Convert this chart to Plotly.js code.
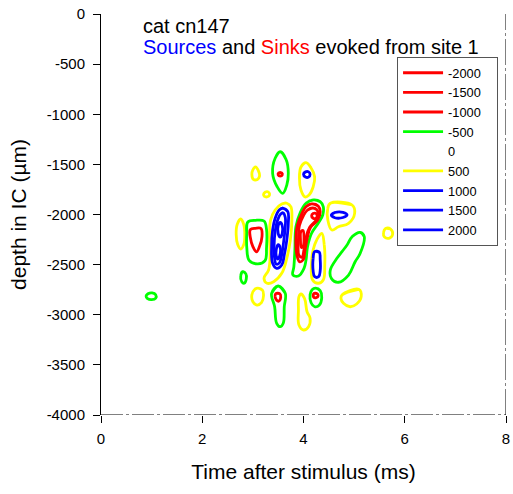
<!DOCTYPE html>
<html><head><meta charset="utf-8">
<script src="https://cdn.plot.ly/plotly-3.0.1.min.js"></script>
<style>html,body{margin:0;padding:0;background:#fff}#chart{width:513px;height:494px}</style>
</head><body><div id="chart"></div>
<script>
// Contour levels (current source density) and their colours
const levelNames = ['-2000','-1500','-1000','-500','0','500','1000','1500','2000'];
const levelColors = ['#ff0000','#ff0000','#ff0000','#00ff00','rgba(0,0,0,0)','#ffff00','#0000ff','#0000ff','#0000ff'];

// Contour loops per level: [time (ms), depth (µm)]
const loopsNeg2000 = [
  [[4.16,-2012],[4.19,-1990],[4.24,-1988],[4.27,-2010],[4.25,-2035],[4.19,-2038]],
  [[3.95,-2170],[3.99,-2160],[4.01,-2230],[3.99,-2320],[3.96,-2330],[3.94,-2250]]
];
const loopsNeg1500 = [
  [[4.18,-1935],[4.26,-1950],[4.29,-1995],[4.25,-2055],[4.12,-2130],[4.05,-2230],[4.01,-2350],[3.97,-2425],[3.91,-2405],[3.90,-2250],[3.92,-2110],[4.00,-2010],[4.08,-1955]]
];
const loopsNeg1000 = [
  [[4.16,-1895],[4.29,-1915],[4.33,-1972],[4.28,-2055],[4.14,-2128],[4.08,-2221],[4.03,-2354],[3.99,-2454],[3.92,-2471],[3.87,-2404],[3.85,-2254],[3.88,-2105],[3.97,-1988],[4.05,-1922]],
  [[2.95,-2150],[3.05,-2138],[3.16,-2140],[3.18,-2220],[3.13,-2320],[3.07,-2372],[3.00,-2320],[2.95,-2230]],
  [[3.51,-1585],[3.57,-1585],[3.58,-1605],[3.54,-1617],[3.50,-1605]],
  [[3.45,-2790],[3.53,-2790],[3.55,-2825],[3.51,-2865],[3.47,-2855],[3.44,-2820]],
  [[4.20,-2790],[4.27,-2790],[4.29,-2810],[4.25,-2830],[4.20,-2825]]
];
const loopsNeg500 = [
  [[3.54,-1374],[3.66,-1456],[3.70,-1589],[3.67,-1706],[3.59,-1789],[3.48,-1723],[3.39,-1589],[3.44,-1439]],
  [[4.20,-1855],[4.33,-1872],[4.39,-1922],[4.38,-2005],[4.29,-2088],[4.16,-2187],[4.08,-2321],[4.05,-2454],[4.01,-2537],[3.90,-2613],[3.79,-2603],[3.81,-2521],[3.83,-2354],[3.85,-2122],[3.93,-1988],[4.05,-1888]],
  [[2.90,-2075],[3.05,-2058],[3.22,-2065],[3.27,-2150],[3.27,-2330],[3.24,-2460],[3.10,-2492],[2.93,-2460],[2.88,-2330],[2.88,-2180]],
  [[2.80,-2570],[2.86,-2590],[2.87,-2640],[2.83,-2685],[2.78,-2670],[2.76,-2610]],
  [[5.12,-2178],[5.20,-2221],[5.12,-2387],[5.02,-2471],[4.89,-2604],[4.69,-2676],[4.55,-2637],[4.53,-2554],[4.66,-2437],[4.76,-2371],[4.86,-2304],[4.96,-2221]],
  [[3.50,-2713],[3.64,-2786],[3.62,-2920],[3.60,-3085],[3.54,-3119],[3.47,-3085],[3.43,-2920],[3.37,-2786]],
  [[4.24,-2735],[4.33,-2760],[4.36,-2830],[4.31,-2905],[4.22,-2920],[4.15,-2880],[4.13,-2800],[4.17,-2750]],
  [[0.89,-2815],[0.93,-2790],[1.01,-2782],[1.08,-2800],[1.08,-2835],[1.00,-2850],[0.92,-2840]]
];
const loopsPos500 = [
  [[3.05,-1525],[3.11,-1565],[3.13,-1620],[3.09,-1650],[3.01,-1650],[2.98,-1600],[3.00,-1555]],
  [[3.21,-1800],[3.25,-1775],[3.31,-1778],[3.33,-1805],[3.29,-1823],[3.23,-1820]],
  [[4.05,-1483],[4.15,-1536],[4.22,-1623],[4.19,-1726],[4.11,-1805],[4.03,-1825],[3.95,-1756],[3.92,-1636],[3.95,-1526]],
  [[3.67,-1888],[3.75,-1922],[3.77,-2055],[3.74,-2254],[3.67,-2437],[3.57,-2587],[3.41,-2670],[3.28,-2686],[3.22,-2636],[3.31,-2554],[3.34,-2421],[3.33,-2221],[3.35,-2055],[3.44,-1955],[3.57,-1895]],
  [[4.36,-2188],[4.41,-2304],[4.42,-2504],[4.39,-2653],[4.29,-2686],[4.18,-2653],[4.16,-2471],[4.19,-2354],[4.26,-2254]],
  [[4.53,-1888],[4.96,-1905],[5.01,-1988],[4.89,-2088],[4.69,-2122],[4.56,-2155],[4.48,-2055],[4.48,-1938]],
  [[2.76,-2045],[2.82,-2100],[2.84,-2200],[2.82,-2300],[2.76,-2345],[2.70,-2300],[2.67,-2200],[2.69,-2100]],
  [[3.10,-2735],[3.19,-2755],[3.21,-2810],[3.17,-2880],[3.08,-2903],[3.00,-2870],[2.98,-2800],[3.03,-2750]],
  [[3.95,-2793],[4.02,-2836],[4.07,-2970],[4.13,-3035],[4.10,-3119],[4.00,-3152],[3.91,-3102],[3.90,-2953],[3.91,-2820]],
  [[4.76,-2803],[5.09,-2746],[5.14,-2820],[5.05,-2893],[4.92,-2920],[4.79,-2886],[4.74,-2836]],
  [[5.62,-2140],[5.72,-2145],[5.76,-2200],[5.70,-2235],[5.60,-2225],[5.58,-2180]]
];
const loopsPos1000 = [
  [[4.00,-1600],[4.04,-1575],[4.10,-1575],[4.13,-1600],[4.10,-1627],[4.04,-1627]],
  [[3.60,-1938],[3.69,-1972],[3.70,-2088],[3.67,-2254],[3.62,-2404],[3.57,-2504],[3.47,-2537],[3.39,-2487],[3.37,-2321],[3.39,-2155],[3.44,-2038],[3.52,-1955]],
  [[4.22,-2370],[4.31,-2375],[4.33,-2450],[4.33,-2560],[4.30,-2620],[4.22,-2620],[4.19,-2560],[4.19,-2440]],
  [[4.55,-2005],[4.62,-1980],[4.78,-1978],[4.86,-2003],[4.78,-2030],[4.62,-2032]]
];
const loopsPos1500 = [
  [[3.60,-1985],[3.64,-2030],[3.64,-2120],[3.61,-2260],[3.57,-2400],[3.52,-2485],[3.46,-2495],[3.43,-2440],[3.42,-2300],[3.44,-2170],[3.49,-2055],[3.55,-1995]]
];
const loopsPos2000 = [
  [[3.54,-2080],[3.58,-2110],[3.58,-2190],[3.54,-2225],[3.50,-2190],[3.50,-2110]],
  [[3.50,-2300],[3.54,-2330],[3.53,-2410],[3.49,-2445],[3.46,-2410],[3.47,-2330]]
];

const yTickVals = [0,-500,-1000,-1500,-2000,-2500,-3000,-3500,-4000];
const yTickText = ['0','-500','-1000','-1500','-2000','-2500','-3000','-3500','-4000'];
const xTickVals = [0,2,4,6,8];
const xTickText = ['0','2','4','6','8'];

const loopsByLevel = [loopsNeg2000, loopsNeg1500, loopsNeg1000, loopsNeg500, [], loopsPos500, loopsPos1000, loopsPos1500, loopsPos2000];

function buildPath(loops){
  const x = [], y = [];
  loops.forEach(l => {
    const n = l.length;
    const seq = [l[n-1]].concat(l, [l[0], l[1]]);
    seq.forEach(p => { x.push(p[0]); y.push(p[1]); });
    x.push(null); y.push(null);
  });
  if (!x.length) { x.push(null); y.push(null); }
  return {x, y};
}

// draw order: yellow/green first, blue and red on top; legend order kept by legendrank
const drawOrder = [4,5,3,6,7,8,2,1,0];
const pad = '\u00a0\u00a0\u00a0';
const traces = drawOrder.map(i => {
  const p = buildPath(loopsByLevel[i]);
  return {
    type: 'scatter', mode: 'lines', x: p.x, y: p.y, name: levelNames[i] + pad,
    line: {color: levelColors[i], width: 2.8, shape: 'spline', smoothing: 1.1},
    legendrank: i + 1, hoverinfo: 'skip', connectgaps: false
  };
});

const font = 'Arial, "Liberation Sans", sans-serif';
const layout = {
  width: 513, height: 494,
  margin: {l: 101, r: 7, t: 14, b: 79},
  paper_bgcolor: '#fff', plot_bgcolor: '#fff',
  font: {family: font, color: '#000', size: 15},
  showlegend: true,
  legend: {x: 0.731, xanchor: 'left', y: 0.893, yanchor: 'top', bordercolor: '#555', borderwidth: 1,
           bgcolor: '#fff', font: {size: 12.8, family: font, color: '#000'}, itemwidth: 40, traceorder: 'normal'},
  xaxis: {range: [0, 8], tickvals: xTickVals, ticktext: xTickText, ticks: 'outside', ticklen: 7, tickcolor: '#000',
          showline: false, showgrid: false, zeroline: false, tickfont: {size: 15}, ticklabelstandoff: 3,
          title: {text: 'Time after stimulus (ms)', font: {size: 21}, standoff: 18}},
  yaxis: {range: [-4000, 0], tickvals: yTickVals, ticktext: yTickText, ticks: 'outside', ticklen: 7, tickcolor: '#000',
          showline: true, linecolor: '#000', linewidth: 1, showgrid: false, zeroline: false, tickfont: {size: 15},
          ticklabelstandoff: 5,
          title: {text: 'depth in IC (µm)', font: {size: 21}, standoff: 14}},
  shapes: [
    {type: 'line', xref: 'x', yref: 'y', x0: 0, x1: 8, y0: -4000, y1: -4000, line: {color: '#000', width: 1, dash: '22px,3px,3px,3px'}},
    {type: 'line', xref: 'x', yref: 'y', x0: 8, x1: 8, y0: -4000, y1: 0, line: {color: '#000', width: 1, dash: '26px,3px,3px,3px'}}
  ],
  annotations: [
    {xref: 'paper', yref: 'paper', x: 0.099, y: 0.970, xanchor: 'left', yanchor: 'middle', showarrow: false,
     text: 'cat cn147', font: {size: 20, color: '#000'}},
    {xref: 'paper', yref: 'paper', x: 0.099, y: 0.918, xanchor: 'left', yanchor: 'middle', showarrow: false,
     text: '<span style="color:#0000ff">Sources</span> and <span style="color:#ff0000">Sinks</span> evoked from site 1',
     font: {size: 20, color: '#000'}}
  ]
};

Plotly.newPlot('chart', traces, layout, {staticPlot: true, displayModeBar: false});
</script>
</body></html>
